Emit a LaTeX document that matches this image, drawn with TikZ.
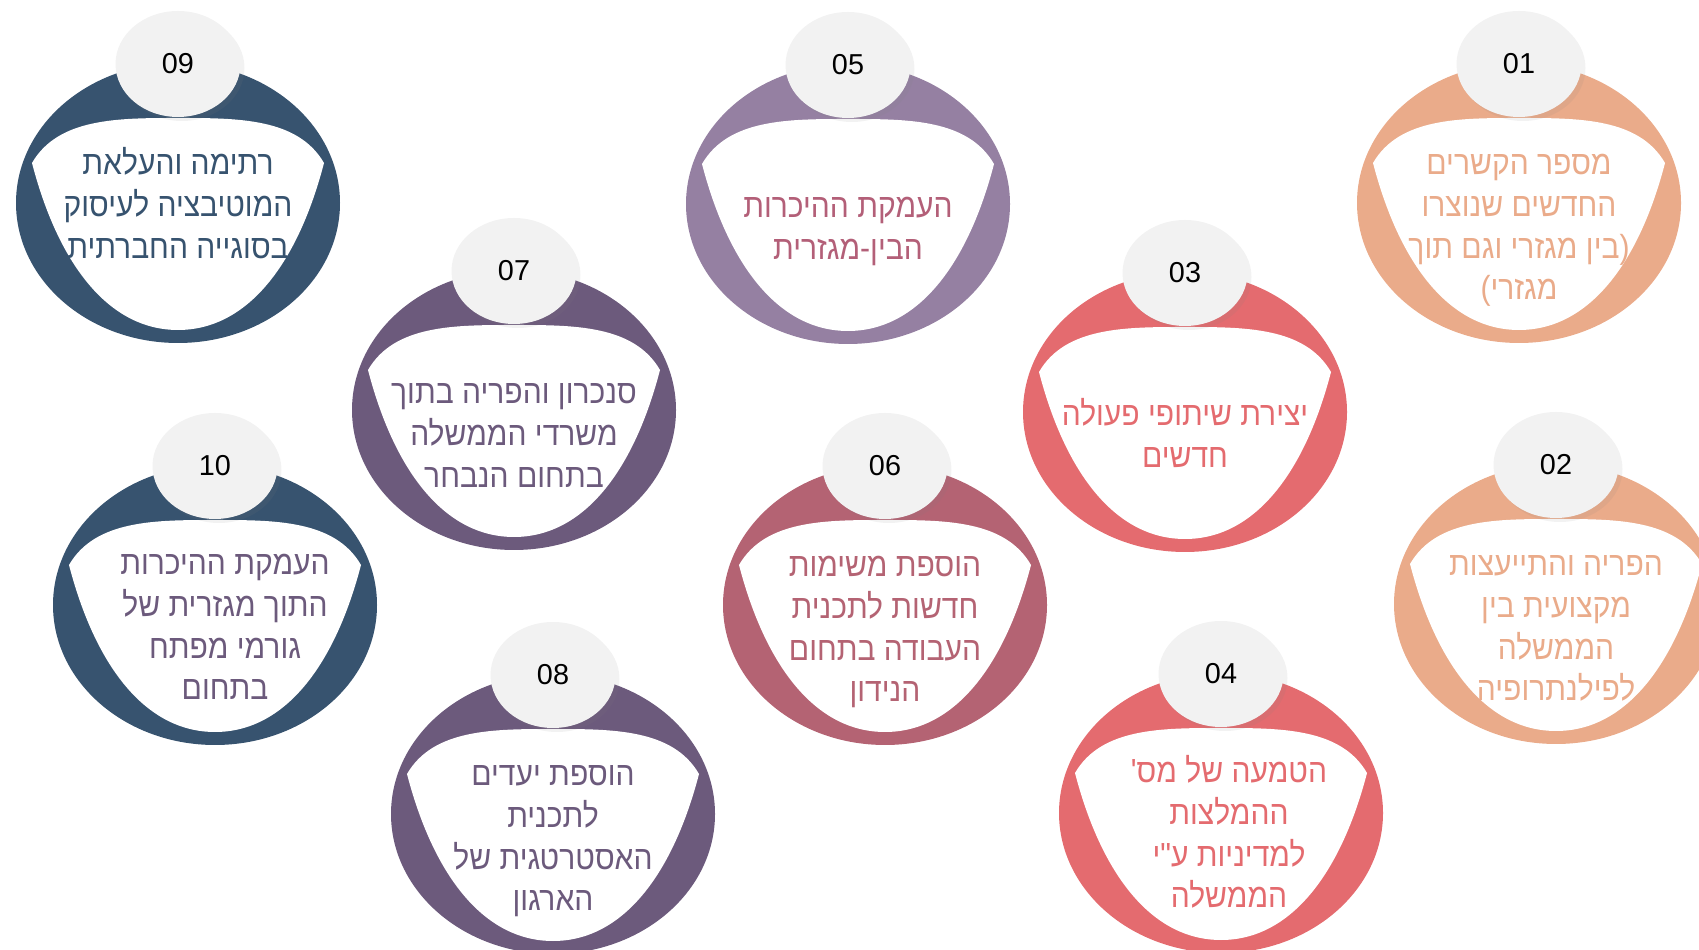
\documentclass[tikz,border=0pt]{standalone}
\usepackage{fontspec}
\setmainfont{Liberation Sans}
\newfontfamily\hebfont[Script=Hebrew, FakeStretch=0.9]{Liberation Sans}
\TeXXeTstate=1
\usetikzlibrary{shapes.geometric,shadows}

\definecolor{peach}{HTML}{EAAB8A}
\definecolor{coral}{HTML}{E46B6F}
\definecolor{lilac}{HTML}{9580A2}
\definecolor{rose}{HTML}{B46373}
\definecolor{rosetext}{HTML}{B35F78}
\definecolor{plum}{HTML}{6C5A7C}
\definecolor{navy}{HTML}{37536F}
\definecolor{badgegray}{HTML}{F2F2F2}

% one right-to-left line
\newcommand{\rl}[1]{\strut\beginR#1\endR}

\tikzset{
  ring/.style={ellipse, minimum width=32.4mm, minimum height=28mm, inner sep=0pt},
  badge/.style={ellipse, fill=badgegray, minimum width=12.5mm, minimum height=10.6mm, inner sep=0pt,
    font=\fontsize{8.2}{9}\selectfont,
    drop shadow={opacity=0.1, shadow xshift=0.4mm, shadow yshift=-0.4mm}},
  itemtext/.style={align=center, inner sep=0pt, font=\hebfont\fontsize{9.5}{11.86}\selectfont},
}

\begin{document}
\begin{tikzpicture}[x=0.1mm, y=-0.1mm]
\useasboundingbox (0,0) rectangle (1699,950);

\foreach \n/\px/\py/\ringcol/\textcol/\tx/\ty/\lines in {
  01/1519/203/peach/peach/0/26/{\rl{מספר הקשרים}\\\rl{החדשים שנוצרו}\\\rl{בין מגזרי וגם תוך}(\\)\rl{מגזרי}},
  02/1556/604/peach/peach/0/26/{\rl{הפריה והתייעצות}\\\rl{מקצועית בין}\\\rl{הממשלה}\\\rl{לפילנתרופיה}},
  03/1185/412/coral/coral/0/26/{\rl{יצירת שיתופי פעולה}\\\rl{חדשים}},
  04/1221/813/coral/coral/8/24/{\rl{הטמעה של מס\kern0pt'}\\\rl{ההמלצות}\\\rl{למדיניות ע"י}\\\rl{הממשלה}},
  05/848/204/lilac/rosetext/0/26/{\rl{העמקת ההיכרות}\\\rl{הבין-מגזרית}},
  06/885/605/rose/rose/0/26/{\rl{הוספת משימות}\\\rl{חדשות לתכנית}\\\rl{העבודה בתחום}\\\rl{הנידון}},
  07/514/410/plum/plum/0/27/{\rl{סנכרון והפריה בתוך}\\\rl{משרדי הממשלה}\\\rl{בתחום הנבחר}},
  08/553/814/plum/plum/0/26/{\rl{הוספת יעדים}\\\rl{לתכנית}\\\rl{האסטרטגית של}\\\rl{הארגון}},
  09/178/203/navy/navy/0/5/{\rl{רתימה והעלאת}\\\rl{המוטיבציה לעיסוק}\\\rl{בסוגייה החברתית}},
  10/215/605/navy/plum/10/24/{\rl{העמקת ההיכרות}\\\rl{התוך מגזרית של}\\\rl{גורמי מפתח}\\\rl{בתחום}}}
{
  \node[ring, fill=\ringcol] (ring\n) at (\px,\py) {};
  \fill[white, shift={(ring\n.center)}] (-146,-40)
    .. controls (-120,-85) and (-60,-85) .. (0,-85)
    .. controls (60,-85) and (120,-85) .. (146,-40)
    .. controls (120,60) and (70,127) .. (0,127)
    .. controls (-70,127) and (-120,60) .. cycle;
  \node[itemtext, text=\textcol] (text\n) at (\px+\tx,\py+\ty) {\lines};
  \node[badge] (badge\n) at (\px,\py-139) {\n};
}
\end{tikzpicture}
\end{document}
